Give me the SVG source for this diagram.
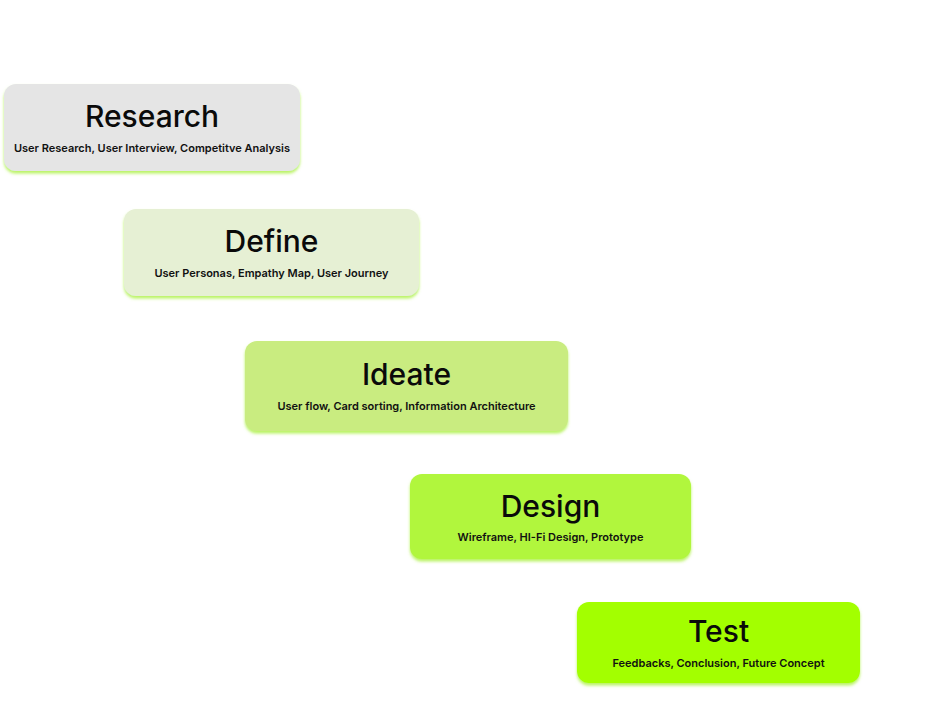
<svg xmlns="http://www.w3.org/2000/svg" width="931" height="720" viewBox="0 0 931 720">
<defs>
<filter id="glow" x="-10%" y="-20%" width="120%" height="150%">
<feDropShadow dx="0" dy="2.5" stdDeviation="1.8" flood-color="#a8f03a" flood-opacity="0.8"/>
</filter>
</defs>
<style>
.box{filter:url(#glow);}
.t{font-family:Inter,"Noto Sans",sans-serif;font-weight:500;font-size:30px;fill:#0a0a0a;text-anchor:middle;}
.s{font-family:Inter,"Noto Sans",sans-serif;font-weight:600;font-size:11px;fill:#111;text-anchor:middle;}
</style>
<rect width="931" height="720" fill="#ffffff"/>
<g id="connectors"></g>
<g id="research">
<rect class="box" x="4" y="84" width="296" height="87" rx="12" fill="#e5e5e5"/>
<text class="t" x="152" y="127">Research</text>
<text class="s" x="152" y="152">User Research, User Interview, Competitve Analysis</text>
</g>
<g id="define">
<rect class="box" x="124" y="209" width="295" height="87" rx="12" fill="#e6f0d4"/>
<text class="t" x="271.5" y="252">Define</text>
<text class="s" x="271.5" y="277">User Personas, Empathy Map, User Journey</text>
</g>
<g id="ideate">
<rect class="box" x="245" y="341" width="323" height="90" rx="12" fill="#c9ec80"/>
<text class="t" x="406.5" y="385">Ideate</text>
<text class="s" x="406.5" y="410">User flow, Card sorting, Information Architecture</text>
</g>
<g id="design">
<rect class="box" x="410" y="474" width="281" height="85" rx="12" fill="#b1f63e"/>
<text class="t" x="550.5" y="517">Design</text>
<text class="s" x="550.5" y="541">Wireframe, HI-Fi Design, Prototype</text>
</g>
<g id="test">
<rect class="box" x="577" y="602" width="283" height="81" rx="12" fill="#a3ff00"/>
<text class="t" x="718.5" y="642">Test</text>
<text class="s" x="718.5" y="667">Feedbacks, Conclusion, Future Concept</text>
</g>
</svg>
